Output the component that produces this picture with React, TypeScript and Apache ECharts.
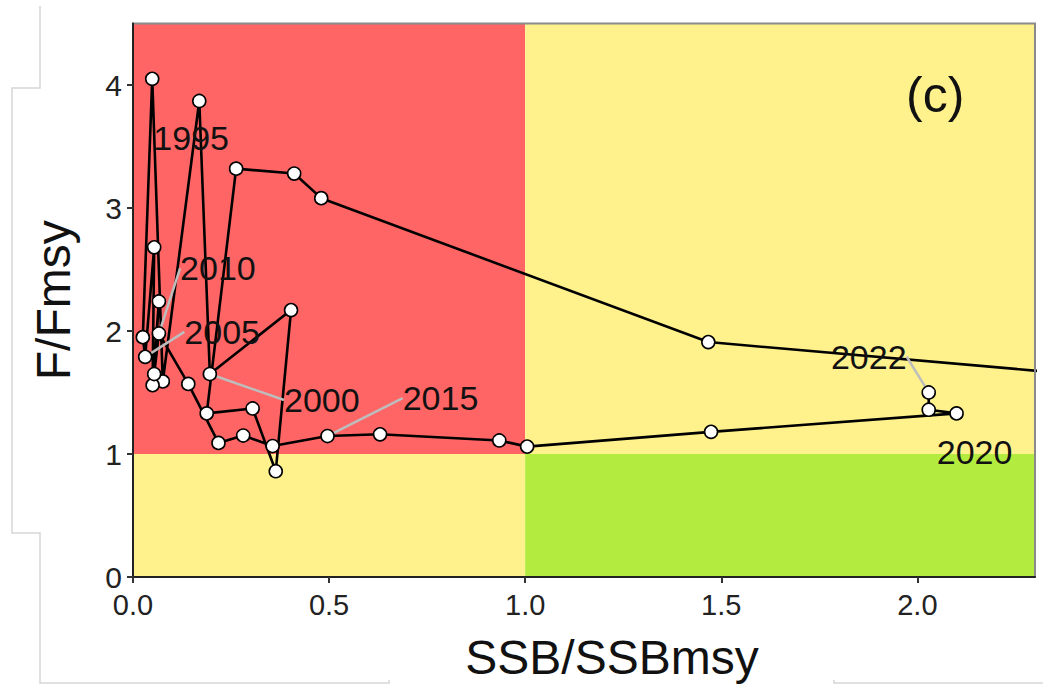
import React, { useEffect, useRef } from "react";
import * as echarts from "echarts";

// ---- data ----
const years = [
  1991, 1992, 1993, 1994, 1995, 1996, 1997, 1998, 1999, 2000,
  2001, 2002, 2003, 2004, 2005, 2006, 2007, 2008, 2009, 2010,
  2011, 2012, 2013, 2014, 2015, 2016, 2017, 2018, 2019, 2020,
  2021, 2022,
];
const ssbRatio = [
  2.65, 1.467, 0.48, 0.411, 0.263, 0.188, 0.305, 0.364, 0.403, 0.196,
  0.169, 0.076, 0.049, 0.025, 0.031, 0.054, 0.05, 0.066, 0.054, 0.066,
  0.141, 0.218, 0.281, 0.356, 0.496, 0.63, 0.934, 1.005, 1.474, 2.1,
  2.029, 2.029,
];
const fRatio = [
  1.58, 1.91, 3.08, 3.28, 3.32, 1.33, 1.37, 0.86, 2.17, 1.65,
  3.87, 1.59, 4.05, 1.95, 1.79, 2.68, 1.56, 2.24, 1.65, 1.98,
  1.57, 1.09, 1.15, 1.065, 1.146, 1.16, 1.11, 1.06, 1.18, 1.33,
  1.36, 1.5,
];
const labelledYears = [1995, 2000, 2005, 2010, 2015, 2020, 2022];
const xTickValues = [0, 0.5, 1, 1.5, 2];
const yTickValues = [0, 1, 2, 3, 4];
const xMax = 2.3;
const yMax = 4.5;
const refSSB = 1;
const refF = 1;

// ---- label placement (pixel offsets, style only) ----
const labelOffsets: Record<number, [number, number, boolean]> = {
  1995: [-45, -31, false],
  2000: [112, 26, true],
  2005: [77, -25, true],
  2010: [59, -65, true],
  2015: [113, -38, true],
  2020: [18, 39, false],
  2022: [-60, -36, true],
};

const RED = "#FF6565";
const YELLOW = "#FFF28C";
const GREEN = "#B3EC3E";
const FONT = "Liberation Sans, Arial, Helvetica, sans-serif";

export default function App() {
  const ref = useRef<HTMLDivElement>(null);

  useEffect(() => {
    if (!ref.current) return;
    const chart = echarts.init(ref.current, undefined, { renderer: "svg" });

    const pts = years.map((y, i) => [ssbRatio[i], fRatio[i]]);
    const scatterData = years.map((yr, i) => {
      const isLab = labelledYears.includes(yr);
      const off = labelOffsets[yr];
      return {
        value: [ssbRatio[i], fRatio[i]],
        name: String(yr),
        label: isLab
          ? { show: true, formatter: String(yr) }
          : { show: false },
        labelLine: { show: isLab && off ? off[2] : false },
      };
    });

    const left = 133;
    const top = 23.5;
    const right = 8;
    const bottom = 110;
    const W = 1043 - left - right;
    const H = 687 - top - bottom;

    const option: any = {
      animation: false,
      backgroundColor: "#ffffff",
      textStyle: { fontFamily: FONT },
      grid: { left, top, right, bottom, containLabel: false },
      xAxis: {
        type: "value",
        min: 0,
        max: xMax,
        interval: 0.5,
        z: 5,
        name: "SSB/SSBmsy",
        nameLocation: "middle",
        nameGap: 56,
        nameTextStyle: {
          fontSize: 48,
          color: "#111",
          fontFamily: FONT,
          padding: [0, 0, 0, 56],
        },
        axisLine: { show: true, lineStyle: { color: "#222", width: 2 } },
        axisTick: {
          show: true,
          length: 6,
          inside: false,
          lineStyle: { color: "#333", width: 2 },
          customValues: xTickValues,
        },
        axisLabel: {
          fontSize: 29,
          lineHeight: 30,
          color: "#222",
          margin: 13,
          fontFamily: FONT,
          customValues: xTickValues,
          formatter: (v: number) => v.toFixed(1),
        },
        splitLine: { show: false },
      },
      yAxis: {
        type: "value",
        min: 0,
        max: yMax,
        interval: 1,
        z: 5,
        name: "F/Fmsy",
        nameLocation: "middle",
        nameGap: 56,
        nameTextStyle: { fontSize: 48, color: "#111", fontFamily: FONT },
        axisLine: { show: true, lineStyle: { color: "#222", width: 2 } },
        axisTick: {
          show: true,
          length: 6,
          inside: false,
          lineStyle: { color: "#333", width: 2 },
          customValues: yTickValues,
        },
        axisLabel: {
          fontSize: 30,
          lineHeight: 24,
          color: "#222",
          margin: 11,
          fontFamily: FONT,
          customValues: yTickValues,
        },
        splitLine: { show: false },
      },
      graphic: [
        {
          type: "rect",
          z: 4,
          silent: true,
          shape: { x: left, y: top, width: W, height: H },
          style: { fill: "none", stroke: "#8a8a8a", lineWidth: 2 },
        },
        {
          type: "text",
          z: 10,
          left: 906,
          top: 70,
          style: {
            text: "(c)",
            fontSize: 50,
            fill: "#111",
            fontFamily: FONT,
          },
        },
        {
          type: "polyline",
          z: 1,
          silent: true,
          shape: {
            points: [
              [40, 6], [40, 88], [12, 88], [12, 533], [40, 533], [40, 683], [389, 683], [389, 680],
            ],
          },
          style: { fill: "none", stroke: "#d6d6d6", lineWidth: 1.5 },
        },
        {
          type: "polyline",
          z: 1,
          silent: true,
          shape: { points: [[834, 680], [834, 683], [1043, 683]] },
          style: { fill: "none", stroke: "#d6d6d6", lineWidth: 1.5 },
        },
      ],
      series: [
        {
          type: "line",
          data: pts,
          showSymbol: false,
          symbol: "none",
          clip: true,
          z: 3,
          lineStyle: { color: "#000", width: 2.6 },
          markArea: {
            silent: true,
            z: 1,
            data: [
              [
                { coord: [0, refF], itemStyle: { color: RED, opacity: 1 } },
                { coord: [refSSB, yMax] },
              ],
              [
                { coord: [refSSB, refF], itemStyle: { color: YELLOW, opacity: 1 } },
                { coord: [xMax, yMax] },
              ],
              [
                { coord: [0, 0], itemStyle: { color: YELLOW, opacity: 1 } },
                { coord: [refSSB, refF] },
              ],
              [
                { coord: [refSSB, 0], itemStyle: { color: GREEN, opacity: 1 } },
                { coord: [xMax, refF] },
              ],
            ],
          },
        },
        {
          type: "scatter",
          data: scatterData,
          clip: true,
          z: 6,
          symbol: "circle",
          symbolSize: 13,
          itemStyle: {
            color: "#ffffff",
            borderColor: "#000",
            borderWidth: 1.6,
            opacity: 1,
          },
          label: {
            position: "inside",
            fontSize: 34,
            color: "#111",
            fontFamily: FONT,
          },
          labelLine: {
            lineStyle: { color: "#BDBDBD", width: 2.5 },
          },
          labelLayout: (params: any) => {
            const yr = years[params.dataIndex];
            const off = labelOffsets[yr];
            if (!off) return {};
            return { dx: off[0], dy: off[1] };
          },
        },
      ],
    };

    chart.setOption(option);
    return () => chart.dispose();
  }, []);

  return (
    <div
      ref={ref}
      style={{
        position: "fixed",
        left: 0,
        top: 0,
        width: 1043,
        height: 687,
        background: "#fff",
      }}
    />
  );
}
